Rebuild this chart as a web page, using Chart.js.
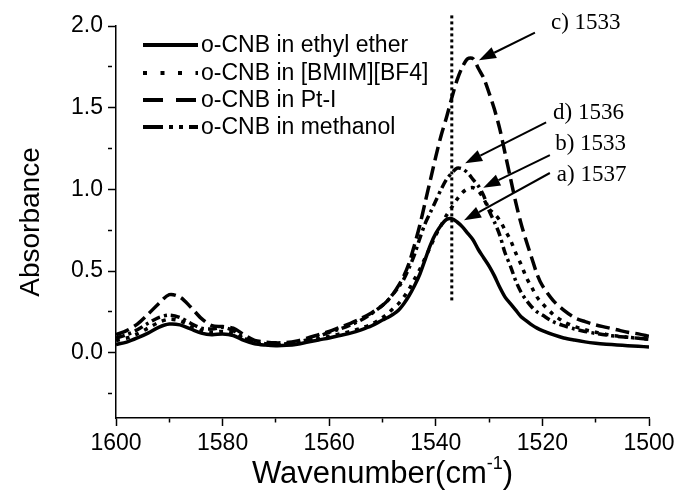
<!DOCTYPE html>
<html>
<head>
<meta charset="utf-8">
<script src="https://cdn.jsdelivr.net/npm/chart.js@4.4.1/dist/chart.umd.min.js"></script>
<style>
  html, body { margin: 0; padding: 0; background: #fff; }
  canvas { display: block; }
</style>
</head>
<body>
<canvas id="grafico" width="679" height="496"></canvas>
<script>
// wavenumbers (cm-1), finer step around the band
const wavenumbers = [
  1600, 1598, 1596, 1594, 1592, 1590, 1588, 1586, 1584, 1582, 1580, 1578, 1576,
  1574, 1572, 1570, 1568, 1566, 1564, 1562, 1560, 1558, 1556, 1554, 1552,
  1550, 1549, 1548, 1547, 1546, 1545, 1544, 1543, 1542, 1541, 1540, 1539, 1538,
  1537, 1536, 1535, 1534, 1533, 1532, 1531, 1530, 1529, 1528, 1527, 1526, 1525,
  1524, 1523, 1522, 1521,
  1520, 1518, 1516, 1514, 1512, 1510, 1508, 1506, 1504, 1502, 1500
];

const etherVals = [
  0.05, 0.065, 0.09, 0.12, 0.155, 0.175, 0.17, 0.145, 0.12, 0.11, 0.115, 0.105, 0.075,
  0.055, 0.047, 0.043, 0.045, 0.052, 0.065, 0.078, 0.09, 0.105, 0.12, 0.14, 0.165,
  0.20, 0.215, 0.235, 0.26, 0.30, 0.35, 0.41, 0.48, 0.57, 0.66, 0.73, 0.78, 0.815,
  0.82, 0.80, 0.77, 0.73, 0.69, 0.63, 0.58, 0.53, 0.47, 0.40, 0.34, 0.30, 0.26,
  0.22, 0.195, 0.17, 0.15,
  0.135, 0.11, 0.09, 0.077, 0.066, 0.058, 0.052, 0.047, 0.043, 0.039, 0.035
];

const bmimVals = [
  0.075, 0.09, 0.115, 0.15, 0.185, 0.205, 0.195, 0.165, 0.135, 0.125, 0.13, 0.12, 0.085,
  0.06, 0.052, 0.048, 0.05, 0.058, 0.07, 0.085, 0.10, 0.115, 0.13, 0.15, 0.175,
  0.215, 0.24, 0.27, 0.30, 0.34, 0.39, 0.45, 0.51, 0.58, 0.65, 0.72, 0.78, 0.84,
  0.89, 0.94, 0.98, 1.005, 1.01, 0.99, 0.94, 0.88, 0.85, 0.81, 0.75, 0.69, 0.61,
  0.54, 0.46, 0.40, 0.34,
  0.30, 0.235, 0.19, 0.16, 0.14, 0.125, 0.112, 0.102, 0.095, 0.088, 0.082
];

const ptVals = [
  0.11, 0.135, 0.175, 0.235, 0.30, 0.355, 0.34, 0.28, 0.21, 0.165, 0.16, 0.15, 0.11,
  0.075, 0.065, 0.06, 0.062, 0.072, 0.09, 0.11, 0.13, 0.155, 0.18, 0.21, 0.245,
  0.29, 0.32, 0.36, 0.41, 0.47, 0.55, 0.66, 0.78, 0.92, 1.06, 1.20, 1.33, 1.44,
  1.56, 1.67, 1.75, 1.80, 1.80, 1.74, 1.68, 1.59, 1.49, 1.37, 1.22, 1.07, 0.92,
  0.79, 0.68, 0.58, 0.48,
  0.41, 0.32, 0.26, 0.215, 0.19, 0.17, 0.155, 0.14, 0.125, 0.115, 0.10
];

const methanolVals = [
  0.09, 0.11, 0.14, 0.18, 0.215, 0.23, 0.215, 0.18, 0.15, 0.145, 0.155, 0.135, 0.09,
  0.062, 0.055, 0.052, 0.055, 0.065, 0.08, 0.10, 0.125, 0.145, 0.17, 0.20, 0.24,
  0.29, 0.32, 0.36, 0.40, 0.45, 0.52, 0.60, 0.70, 0.79, 0.86, 0.93, 1.00, 1.06,
  1.10, 1.13, 1.125, 1.10, 1.06, 1.02, 0.96, 0.87, 0.80, 0.72, 0.61, 0.53, 0.44,
  0.37, 0.32, 0.28, 0.25,
  0.23, 0.19, 0.165, 0.145, 0.13, 0.118, 0.108, 0.10, 0.094, 0.088, 0.083
];

const seriesNames = [
  'o-CNB in ethyl ether',
  'o-CNB in [BMIM][BF4]',
  'o-CNB in Pt-I',
  'o-CNB in methanol'
];

// peak labels: text, text position, arrow start, arrow tip (wavenumber, absorbance)
const peakLabels = ['c) 1533', 'd) 1536', 'b) 1533', 'a) 1537'];
const labelPos   = [[1518.4, 2.02], [1518.0, 1.47], [1517.6, 1.28], [1517.3, 1.09]];
const arrowFrom  = [[1521.4, 1.96], [1519.3, 1.41], [1518.6, 1.21], [1518.6, 1.10]];
const arrowTo    = [[1531.9, 1.79], [1534.5, 1.16], [1531.1, 1.01], [1534.7, 0.81]];

// dotted marker at 1537
const markerWn = 1537;
const markerRange = [0.32, 2.08];

const xTicksMajor = 20;
const yTicksMajor = 0.5;

document.addEventListener('DOMContentLoaded', () => {

  const ctx = document.getElementById('grafico').getContext('2d');
  const SANS = '"Liberation Sans", Arial, sans-serif';
  const SERIF = '"Liberation Serif", "Times New Roman", serif';

  const curveDash  = [[], [4, 6], [14, 6], [9, 4, 3, 4]];
  const legendDash = [[], [4, 13.5], [20, 13], [20, 6, 4, 6, 4, 6]];
  const allVals = [etherVals, bmimVals, ptVals, methanolVals];

  const datasets = allVals.map((vals, i) => ({
    label: seriesNames[i],
    data: wavenumbers.map((w, k) => ({ x: w, y: vals[k] })),
    borderColor: '#000',
    borderWidth: 3.5,
    borderDash: curveDash[i],
    pointRadius: 0,
    tension: 0.3,
    fill: false
  }));

  // extra drawing: marker line, peak arrows, legend, axis titles
  const extras = {
    id: 'extras',
    afterDraw(chart) {
      const c = chart.ctx;
      const xs = chart.scales.x, ys = chart.scales.y;
      c.save();
      c.strokeStyle = '#000';
      c.fillStyle = '#000';

      // vertical dotted line
      c.lineWidth = 3;
      c.setLineDash([3, 3]);
      c.beginPath();
      c.moveTo(xs.getPixelForValue(markerWn), ys.getPixelForValue(markerRange[0]));
      c.lineTo(xs.getPixelForValue(markerWn), ys.getPixelForValue(markerRange[1]));
      c.stroke();
      c.setLineDash([]);

      // arrows + labels
      c.font = '23px ' + SERIF;
      c.textBaseline = 'middle';
      c.textAlign = 'left';
      peakLabels.forEach((txt, i) => {
        const x1 = xs.getPixelForValue(arrowFrom[i][0]), y1 = ys.getPixelForValue(arrowFrom[i][1]);
        const x2 = xs.getPixelForValue(arrowTo[i][0]),   y2 = ys.getPixelForValue(arrowTo[i][1]);
        const ang = Math.atan2(y2 - y1, x2 - x1);
        const hl = 17, hw = 6;
        const bx = x2 - hl * Math.cos(ang), by = y2 - hl * Math.sin(ang);
        c.lineWidth = 2;
        c.beginPath();
        c.moveTo(x1, y1);
        c.lineTo(bx, by);
        c.stroke();
        c.beginPath();
        c.moveTo(x2, y2);
        c.lineTo(bx + hw * Math.sin(ang), by - hw * Math.cos(ang));
        c.lineTo(bx - hw * Math.sin(ang), by + hw * Math.cos(ang));
        c.closePath();
        c.fill();
        c.fillText(txt, xs.getPixelForValue(labelPos[i][0]), ys.getPixelForValue(labelPos[i][1]));
      });

      // legend
      c.font = '23px ' + SANS;
      const rows = [45, 73, 100, 127];
      seriesNames.forEach((name, i) => {
        c.lineWidth = 4;
        c.setLineDash(legendDash[i]);
        c.beginPath();
        c.moveTo(143, rows[i]);
        c.lineTo(198, rows[i]);
        c.stroke();
        c.setLineDash([]);
        c.fillText(name, 201, rows[i] + 1);
      });

      // axis titles
      c.font = '28px ' + SANS;
      c.textAlign = 'center';
      c.save();
      c.translate(31, (chart.chartArea.top + chart.chartArea.bottom) / 2);
      c.rotate(-Math.PI / 2);
      c.fillText('Absorbance', 0, 0);
      c.restore();

      const main = 'Wavenumber(cm', sup = '-1', tail = ')';
      c.textBaseline = 'alphabetic';
      c.textAlign = 'left';
      c.font = '31px ' + SANS;
      const wMain = c.measureText(main).width, wTail = c.measureText(tail).width;
      c.font = '18px ' + SANS;
      const wSup = c.measureText(sup).width;
      const total = wMain + wSup + wTail;
      let x0 = (chart.chartArea.left + chart.chartArea.right) / 2 - total / 2;
      const base = 483;
      c.font = '31px ' + SANS;
      c.fillText(main, x0, base);
      c.font = '18px ' + SANS;
      c.fillText(sup, x0 + wMain, base - 14);
      c.font = '31px ' + SANS;
      c.fillText(tail, x0 + wMain + wSup, base);
      c.restore();
    }
  };

  new Chart(ctx, {
    type: 'line',
    data: { datasets },
    options: {
      responsive: false,
      animation: false,
      devicePixelRatio: 1,
      layout: { padding: { top: 26, right: 30, left: 0, bottom: 0 } },
      plugins: { legend: { display: false }, tooltip: { enabled: false } },
      scales: {
        x: {
          type: 'linear',
          reverse: true,
          min: 1500,
          max: 1600,
          afterFit: s => { s.height = 78; },
          border: { display: true, color: '#000', width: 1.5 },
          grid: {
            drawOnChartArea: false,
            tickLength: 8,
            tickColor: '#000',
            tickWidth: 1.5,
            tickBorderDash: c => (c.tick && c.tick.value % xTicksMajor === 0) ? [] : [4, 20]
          },
          ticks: {
            stepSize: 10,
            autoSkip: false,
            maxRotation: 0,
            includeBounds: false,
            padding: 4,
            color: '#000',
            font: { family: SANS, size: 23 },
            callback: v => (v % xTicksMajor === 0 ? String(v) : '')
          }
        },
        y: {
          min: -0.4,
          max: 2.0,
          afterFit: s => { s.width = 116; },
          border: { display: true, color: '#000', width: 1.5 },
          grid: {
            drawOnChartArea: false,
            tickLength: 8,
            tickColor: '#000',
            tickWidth: 1.5,
            tickBorderDash: c => (c.tick && Math.round(c.tick.value * 100) % (yTicksMajor * 100) === 0) ? [] : [4, 20]
          },
          ticks: {
            stepSize: 0.25,
            includeBounds: false,
            autoSkip: false,
            padding: 5,
            color: '#000',
            font: { family: SANS, size: 23 },
            callback: v => (Math.round(v * 100) % (yTicksMajor * 100) === 0 ? v.toFixed(1) : '')
          }
        }
      }
    },
    plugins: [extras]
  });
});
</script>
</body>
</html>
